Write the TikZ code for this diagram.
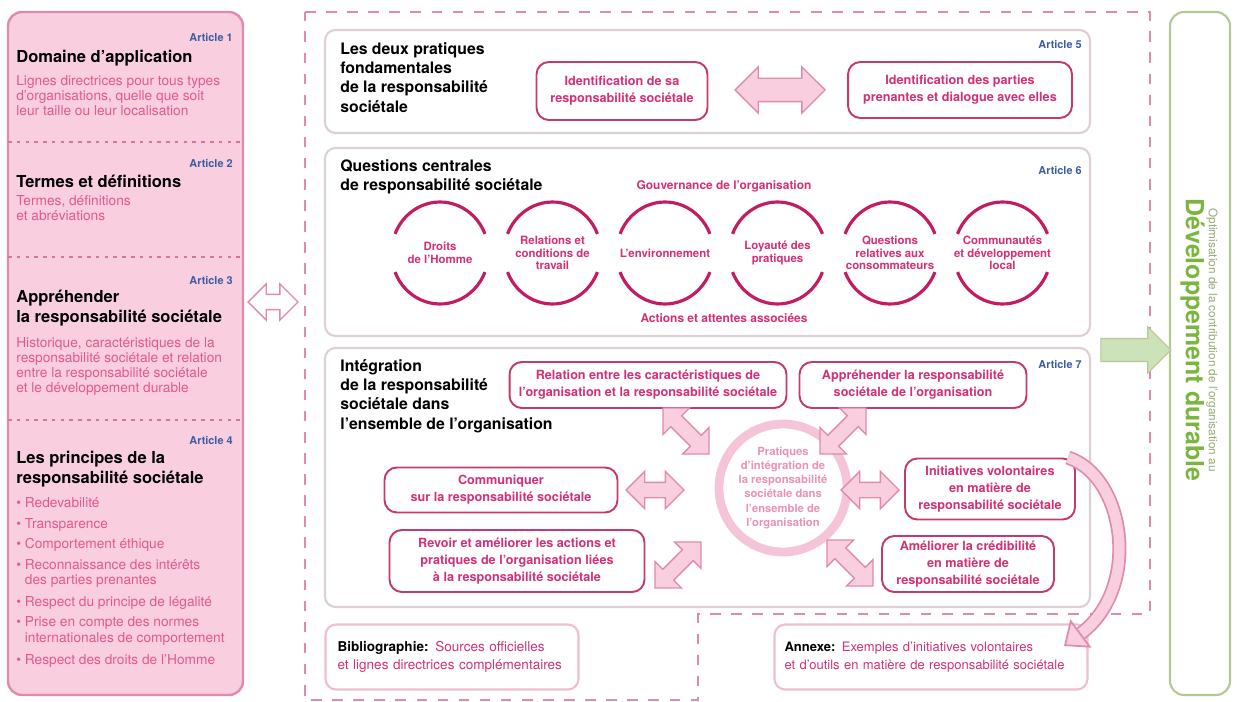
\documentclass[tikz,border=0pt]{standalone}
\usepackage{fontspec}
\setmainfont{TeX Gyre Heros}
\usepackage{tikz}
\usetikzlibrary{positioning, shapes.arrows, arrows.meta}

\definecolor{rosetext}{RGB}{212,48,118}
\definecolor{rosesoft}{RGB}{228,88,142}
\definecolor{roseline}{RGB}{196,58,110}
\definecolor{rosefill}{RGB}{249,207,223}
\definecolor{roseedge}{RGB}{224,138,174}
\definecolor{rosepale}{RGB}{246,196,216}
\definecolor{corepink}{RGB}{234,146,182}
\definecolor{arcred}{RGB}{196,28,98}
\definecolor{greyedge}{RGB}{222,206,213}
\definecolor{tagblue}{RGB}{58,92,160}
\definecolor{dgreen}{RGB}{122,182,62}
\definecolor{greentext}{RGB}{150,172,118}
\definecolor{greenfill}{RGB}{204,226,184}
\definecolor{greenedge}{RGB}{182,200,150}

\begin{document}
\begin{tikzpicture}[x=0.02cm, y=-0.02cm, inner sep=0pt,
   leftcol/.style={draw=roseedge, fill=rosefill, line width=1.4pt, rounded corners=8pt},
   separator/.style={draw=roseline!70, dash pattern=on 2pt off 3pt, line width=1pt},
   frame/.style={draw=roseedge, dash pattern=on 6pt off 6pt, line width=1.2pt},
   section/.style={draw=greyedge, line width=1.2pt, fill=white, rounded corners=6pt},
   innerbox/.style={draw=roseline, line width=1.1pt, fill=white, rounded corners=7pt, align=center, text=rosetext, font=\bfseries\fontsize{7.2}{9.8}\selectfont},
   title/.style={anchor=north west, align=left, font=\bfseries\fontsize{9}{11}\selectfont},
   coltitle/.style={anchor=north west, align=left, font=\bfseries\fontsize{9.4}{11.3}\selectfont},
   coltext/.style={anchor=north west, align=left, text=rosesoft, font=\fontsize{7.8}{8.6}\selectfont},
   tag/.style={anchor=east, text=tagblue, font=\bfseries\fontsize{6.2}{7}\selectfont},
   issuetext/.style={align=center, text=rosetext, font=\bfseries\fontsize{6.5}{7.2}\selectfont},
   issuearc/.style={draw=arcred, line width=1.8pt},
   pinklabel/.style={text=rosetext, font=\bfseries\fontsize{6.8}{8}\selectfont},
   blockarrow/.style={double arrow, draw=roseedge, fill=rosefill, line width=0.8pt},
   bendarrow/.style={draw=roseedge, double=rosefill, double distance=6pt, line width=1pt, -{Triangle[length=12pt, width=20pt, fill=rosefill]}},
   greenarrow/.style={single arrow, draw=greenedge, fill=greenfill, line width=0.6pt}
]
\useasboundingbox[fill=white] (0,0) rectangle (1237,702);

% Left column
\draw[leftcol] (8,12) rectangle (243,695);
\foreach \y in {142,257,420} \draw[separator] (8,\y) -- (243,\y);

\node[tag] (art1) at (233,37) {Article 1};
\node[coltitle] (domaine) at (16,50) {Domaine d'application};
\node[coltext, below=5pt of domaine.south west, anchor=north west] (domainetxt) {Lignes directrices pour tous types\\d'organisations, quelle que soit\\leur taille ou leur localisation};

\node[tag] (art2) at (233,163) {Article 2};
\node[coltitle] (termes) at (16,175) {Termes et définitions};
\node[coltext, below=4pt of termes.south west, anchor=north west] (termestxt) {Termes, définitions\\et abréviations};

\node[tag] (art3) at (233,280) {Article 3};
\node[coltitle] (apprehender) at (16,290) {Appréhender\\la responsabilité sociétale};
\node[coltext, below=6pt of apprehender.south west, anchor=north west] (historique) {Historique, caractéristiques de la\\responsabilité sociétale et relation\\entre la responsabilité sociétale\\et le développement durable};

\node[tag] (art4) at (233,440) {Article 4};
\node[coltitle] (principes) at (16,451) {Les principes de la\\responsabilité sociétale};
\node[coltext, below=5.5pt of principes.south west, anchor=north west] (bullets) {• Redevabilité\\[3.1pt]• Transparence\\[3.1pt]• Comportement éthique\\[3.1pt]• Reconnaissance des intérêts\\\hphantom{• }des parties prenantes\\[4pt]• Respect du principe de légalité\\[3.1pt]• Prise en compte des normes\\\hphantom{• }internationales de comportement\\[4pt]• Respect des droits de l'Homme};

\node[blockarrow, fill=white, minimum height=1cm, inner ysep=0.14cm, double arrow head extend=0.21cm] (link) at (273,302) {};

% Centre frame
\draw[frame] (305,12) -- (1150,12) -- (1150,614) -- (698,614) -- (698,700) -- (305,700) -- cycle;

% Article 5
\draw[section] (325,30) rectangle (1090,133);
\node[title] (pratiques) at (340,42) {Les deux pratiques\\fondamentales\\de la responsabilité\\sociétale};
\node[tag] (art5) at (1082,44) {Article 5};
\node[innerbox, minimum width=3.42cm, minimum height=1.16cm] (ident1) at (622,91) {Identification de sa\\responsabilité sociétale};
\node[innerbox, minimum width=4.48cm, minimum height=1.12cm] (ident2) at (960,90) {Identification des parties\\prenantes et dialogue avec elles};
\node[blockarrow, minimum height=1.8cm, inner ysep=0.22cm, double arrow head extend=0.23cm] (dialogue) at (780,90) {};

% Article 6
\draw[section] (325,148) rectangle (1090,336);
\node[title] (questions) at (340,159) {Questions centrales\\de responsabilité sociétale};
\node[tag] (art6) at (1082,170) {Article 6};
\node[pinklabel] (gouvernance) at (724,186) {Gouvernance de l'organisation};
\foreach \txt [count=\i from 0] in {{Droits\\de l'Homme}, {Relations et\\conditions de\\travail}, {L'environnement}, {Loyauté des\\pratiques}, {Questions\\relatives aux\\consommateurs}, {Communautés\\et développement\\local}} {
  \node[issuetext] (issue\i) at (440+112.5*\i,253) {\txt};
  \draw[issuearc] ([shift={(158:0.97cm and 1.02cm)}]issue\i.center) arc[start angle=158, end angle=22, x radius=0.97cm, y radius=1.02cm];
  \draw[issuearc] ([shift={(202:0.97cm and 1.02cm)}]issue\i.center) arc[start angle=202, end angle=338, x radius=0.97cm, y radius=1.02cm];
}
\node[pinklabel] (actions) at (724,318) {Actions et attentes associées};

% Article 7
\draw[section] (325,348) rectangle (1090,607);
\node[title] (integration) at (340,359) {Intégration\\de la responsabilité\\sociétale dans\\l'ensemble de l'organisation};
\node[tag] (art7) at (1082,364) {Article 7};
\node[innerbox, minimum width=5.54cm, minimum height=0.92cm] (relation) at (648,385) {Relation entre les caractéristiques de\\l'organisation et la responsabilité sociétale};
\node[innerbox, minimum width=4.54cm, minimum height=0.92cm] (saisir) at (913,385) {Appréhender la responsabilité\\sociétale de l'organisation};
\node[innerbox, minimum width=4.66cm, minimum height=0.9cm] (communiquer) at (501,490) {Communiquer\\sur la responsabilité sociétale};
\node[innerbox, minimum width=5.1cm, minimum height=1.24cm] (revoir) at (517,561) {Revoir et améliorer les actions et\\pratiques de l'organisation liées\\à la responsabilité sociétale};
\node[innerbox, minimum width=3.4cm, minimum height=1.22cm] (initiatives) at (990,489) {Initiatives volontaires\\en matière de\\responsabilité sociétale};
\node[innerbox, minimum width=3.44cm, minimum height=1.12cm] (credibilite) at (968,564) {Améliorer la crédibilité\\en matière de\\responsabilité sociétale};
\node[circle, draw=rosepale, line width=5pt, fill=white, minimum size=2.56cm, align=center, text=corepink, font=\bfseries\fontsize{6.4}{8}\selectfont] (core) at (783,488) {Pratiques\\d'intégration de\\la responsabilité\\sociétale dans\\l'ensemble de\\l'organisation};

\node[blockarrow, minimum height=1.3cm, inner ysep=0.14cm, double arrow head extend=0.22cm, rotate=-45] (linkrel) at (686,431) {};
\node[blockarrow, minimum height=1.3cm, inner ysep=0.14cm, double arrow head extend=0.22cm, rotate=45] (linksai) at (843,431) {};
\node[blockarrow, minimum height=1.16cm, inner ysep=0.14cm, double arrow head extend=0.22cm] (linkcom) at (655,490) {};
\node[blockarrow, minimum height=1.16cm, inner ysep=0.14cm, double arrow head extend=0.22cm] (linkini) at (870,490) {};
\node[blockarrow, minimum height=1.3cm, inner ysep=0.14cm, double arrow head extend=0.22cm, rotate=45] (linkrev) at (678,565) {};
\node[blockarrow, minimum height=1.3cm, inner ysep=0.14cm, double arrow head extend=0.22cm, rotate=-45] (linkcre) at (850,563) {};

% Bibliographie and annexe
\node[section, draw=roseedge!55, minimum width=5.06cm, minimum height=1.3cm, text width=4.58cm, align=left, font=\fontsize{7.7}{10.6}\selectfont] (biblio) at (452,657) {{\bfseries Bibliographie:} {\color{rosetext}Sources officielles}\\{\color{rosetext}et lignes directrices complémentaires}};
\node[section, draw=roseedge!55, minimum width=6.26cm, minimum height=1.3cm, text width=5.86cm, align=left, font=\fontsize{7.4}{10.6}\selectfont] (annexe) at (931,657) {{\bfseries Annexe:} {\color{rosetext}Exemples d'initiatives volontaires}\\{\color{rosetext}et d'outils en matière de responsabilité sociétale}};
\coordinate (annexetip) at (1064,646);

% Arrows
\draw[bendarrow] (initiatives.22) .. controls (1125,476) and (1142,588) .. (annexetip);

% Developpement durable
\draw[draw=greenedge, line width=1.2pt, rounded corners=8pt] (1170,12) rectangle (1230,695);
\node[greenarrow, minimum height=1.4cm, inner ysep=0.22cm, single arrow head extend=0.23cm] (contribution) at (1130,350) {};
\node[rotate=-90, align=center] (durable) at (1199,340) {{\color{greentext}\fontsize{6.7}{9}\selectfont Optimisation de la contribution de l'organisation au}\\{\color{dgreen}\bfseries\fontsize{14.2}{16}\selectfont Développement durable}};
\end{tikzpicture}
\end{document}
